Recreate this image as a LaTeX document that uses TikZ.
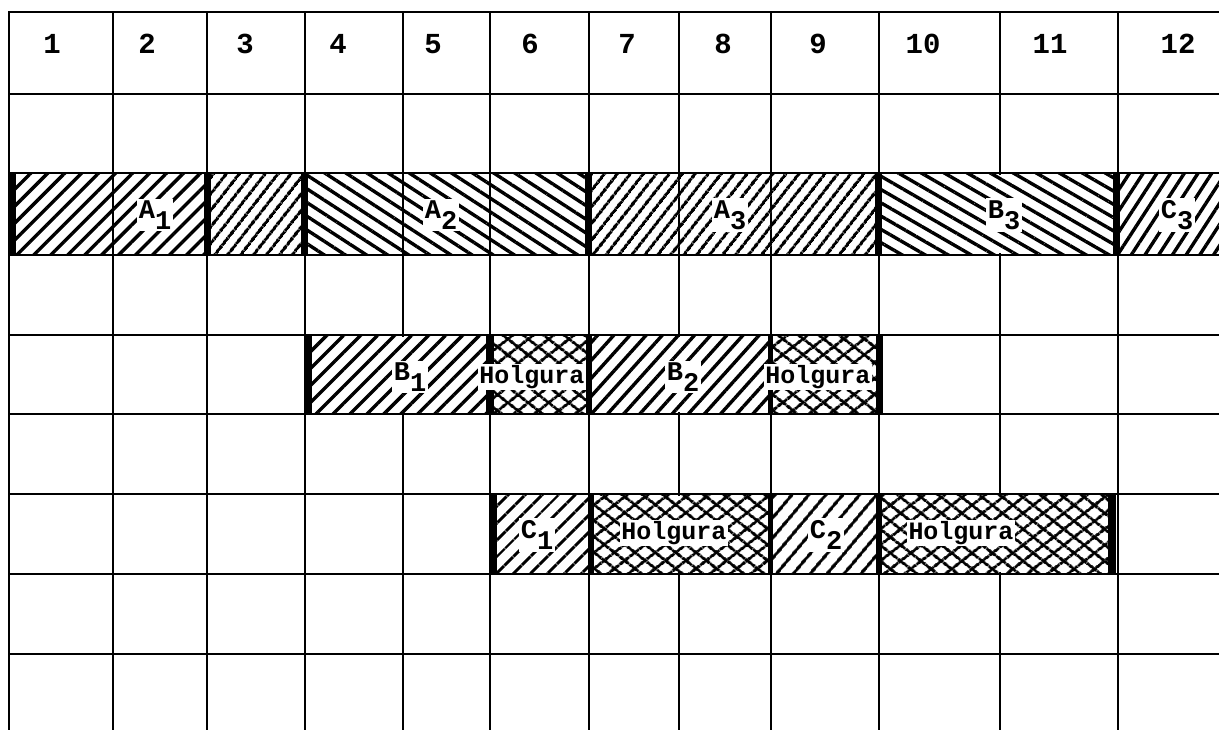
\documentclass[tikz,border=0pt]{standalone}
\usepackage{fontspec}
\setmainfont{Liberation Mono}
\usetikzlibrary{patterns.meta}
\begin{document}
\begin{tikzpicture}[x=1pt,y=-1pt,
  gridline/.style={line width=2.8pt},
  barbox/.style={fill=black},
  hatchl/.style args={#1/#2}{pattern={Lines[angle=#1,distance=#2pt,line width=3.4pt]}},
  crossl/.style args={#1/#2}{pattern={Lines[angle=#1,distance=#2pt,line width=3.2pt]}},
  numlbl/.style={font=\bfseries\fontsize{29}{29}\selectfont,inner sep=0pt},
  oplbl/.style={font=\bfseries\fontsize{27}{27}\selectfont,fill=white,inner sep=2pt},
  hollbl/.style={font=\bfseries\fontsize{25}{25}\selectfont,fill=white,inner sep=1.5pt},
]
\useasboundingbox (0,0) rectangle (1219,730);
\fill[white] (0,0) rectangle (1219,730);
% grid
\foreach \x in {9,113,207,305,403,490,589,679,771,879,1000,1118}
  \draw[gridline] (\x,12) -- (\x,730);
\foreach \y in {12,94,173,255,335,414,494,574,654}
  \draw[gridline] (8,\y) -- (1219,\y);
% hide grid lines inside some boxes
\fill[white] (881,175) rectangle (1116,253);
\fill[white] (307,337) rectangle (877,412);
\fill[white] (492,496) rectangle (1111,572);
% band A
\fill[hatchl={45/12}] (9,173) rectangle (207,255);
\fill[hatchl={52/10.5}] (207,173) rectangle (305,255);
\fill[hatchl={-33/11.5}] (305,173) rectangle (589,255);
\fill[hatchl={52/10.5}] (589,173) rectangle (879,255);
\fill[hatchl={-30/11.5}] (879,173) rectangle (1118,255);
\fill[hatchl={57/11.5}] (1118,173) rectangle (1219,255);
% band B
\fill[hatchl={45/12}] (305,335) rectangle (490,414);
\fill[crossl={38/13}] (490,335) rectangle (589,414);
\fill[crossl={-38/13}] (490,335) rectangle (589,414);
\fill[hatchl={48/12}] (589,335) rectangle (771,414);
\fill[crossl={38/13}] (771,335) rectangle (879,414);
\fill[crossl={-38/13}] (771,335) rectangle (879,414);
% band C
\fill[hatchl={45/13}] (490,494) rectangle (589,574);
\fill[crossl={38/13}] (589,494) rectangle (771,574);
\fill[crossl={-38/13}] (589,494) rectangle (771,574);
\fill[hatchl={50/13}] (771,494) rectangle (879,574);
\fill[crossl={38/13}] (879,494) rectangle (1113,574);
\fill[crossl={-38/13}] (879,494) rectangle (1113,574);
% band outlines
\draw[gridline] (8,173) -- (1219,173) (8,255) -- (1219,255);
\draw[gridline] (305,335) -- (879,335) (305,414) -- (879,414);
\draw[gridline] (490,494) -- (1113,494) (490,574) -- (1113,574);
% thick bars
\foreach \a/\b in {8/16,204/211,301/308,585/592,875/882,1113/1120}
  \fill[barbox] (\a,173) rectangle (\b,255);
\foreach \a/\b in {304/312,486/494,586/592,768/773,876/883}
  \fill[barbox] (\a,335) rectangle (\b,414);
\foreach \a/\b in {489/497,588/594,768/773,876/882,1108/1116}
  \fill[barbox] (\a,494) rectangle (\b,574);
% column numbers
\foreach \n/\x in {1/52,2/147,3/245,4/338,5/433,6/530,7/627,8/723,9/818,10/923,11/1050,12/1178}
  \node[numlbl] (n\n) at (\x,44) {\n};
% operation labels
\node[oplbl] (a1) at (155,215) {A\raisebox{-11pt}{1}};
\node[oplbl] (a2) at (441,215) {A\raisebox{-11pt}{2}};
\node[oplbl] (a3) at (730,215) {A\raisebox{-11pt}{3}};
\node[oplbl] (b3) at (1004,215) {B\raisebox{-11pt}{3}};
\node[oplbl] (c3) at (1177,215) {C\raisebox{-11pt}{3}};
\node[oplbl] (b1) at (410,377) {B\raisebox{-11pt}{1}};
\node[oplbl] (b2) at (683,377) {B\raisebox{-11pt}{2}};
\node[oplbl] (c1) at (537,535) {C\raisebox{-11pt}{1}};
\node[oplbl] (c2) at (826,535) {C\raisebox{-11pt}{2}};
\node[hollbl] (h1) at (532,377) {Holgura};
\node[hollbl] (h2) at (818,377) {Holgura};
\node[hollbl] (h3) at (674,533) {Holgura};
\node[hollbl] (h4) at (961,533) {Holgura};
\end{tikzpicture}
\end{document}
